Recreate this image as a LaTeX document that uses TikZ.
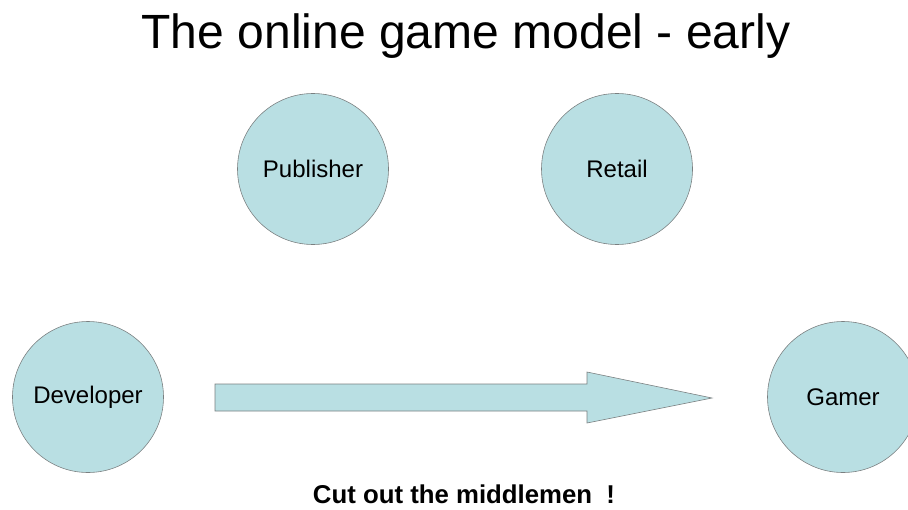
\documentclass[tikz,border=0pt]{standalone}
\usepackage{fontspec}
\setmainfont{Liberation Sans}
\definecolor{disco}{HTML}{B9DFE3}
\definecolor{discoedge}{HTML}{7A7F80}
\begin{document}
\begin{tikzpicture}[x=0.03cm, y=-0.03cm,
    actor/.style={circle, draw=discoedge, fill=disco, line width=0.5pt, minimum size=4.53cm, inner sep=0pt, font=\fontsize{20.5}{24}\selectfont}]
    \useasboundingbox (0,0) rectangle (908,509);
    \clip (0,0) rectangle (908,509);

    % Titulo.
    \node[font=\fontsize{41}{48}\selectfont] (title) at (466,36) {The online game model - early};

    % Los cuatro actores del modelo.
    \node[actor] (pub) at (313,169) {Publisher};
    \node[actor] (ret) at (617,169) {Retail};
    \node[actor] (dev) at (88,397) {Developer};
    \node[actor] (gam) at (843,397) {Gamer};

    % Flecha directa del desarrollador al jugador.
    \draw[discoedge, fill=disco, line width=0.5pt]
        (215,384) -- (587,384) -- (587,372) -- (712,398) -- (587,423) -- (587,411) -- (215,411) -- cycle;

    \node[font=\fontsize{22}{26}\selectfont\bfseries] (note) at (464,494) {Cut out the middlemen\ \ !};
\end{tikzpicture}
\end{document}
